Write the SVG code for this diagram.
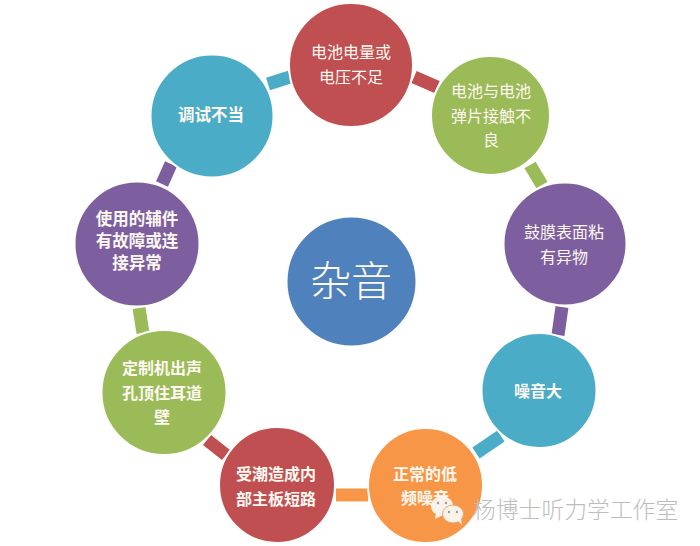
<svg xmlns="http://www.w3.org/2000/svg" width="700" height="546" viewBox="0 0 700 546">
<style>
.c{stroke:#fdfdfb;stroke-width:2}
.t{font-family:"Noto Sans CJK SC","Liberation Sans",sans-serif;font-size:16px;fill:#fdf8f0;text-anchor:middle;font-weight:400}
.b{font-weight:700}
.l{fill:none;stroke-width:13}
.red{fill:#bf4f50}.grn{fill:#9bbb59}.pur{fill:#7d5fa0}.tea{fill:#4aacc6}.org{fill:#f79646}
.big{font-size:41px;font-weight:300}
.n8{font-size:16.500px}
.wm{font-family:"Noto Sans CJK SC",sans-serif;font-size:22.800px;fill:#bdbdbd;font-weight:300}
</style>
<rect width="700" height="546" fill="#fff"/>
<g id="connectors" class="l">
<path d="M268 84L290 77" stroke="#4aacc6"/>
<path d="M414 77L437 87" stroke="#bf4f50"/>
<path d="M530 165L542 185" stroke="#9bbb59"/>
<path d="M562 307L558 335" stroke="#7d5fa0"/>
<path d="M501 436L476 453" stroke="#4aacc6"/>
<path d="M368 495L336 495" stroke="#f79646"/>
<path d="M226 455L207 440" stroke="#bf4f50"/>
<path d="M143 333L139 308" stroke="#9bbb59"/>
<path d="M162 184L171 164" stroke="#7d5fa0"/>
</g>
<g id="n-center"><circle cx="351.500" cy="281.500" r="65" fill="#4f81bd" class="c"/><text x="351" y="296" class="t big">杂音</text></g>
<g id="n1"><circle cx="351" cy="65" r="62" class="c red"/><text class="t" x="351" y="58">电池电量或</text><text class="t" x="351" y="83">电压不足</text></g>
<g id="n2"><circle cx="490.500" cy="115.500" r="59.500" class="c grn"/><text class="t" x="491" y="97">电池与电池</text><text class="t" x="491" y="122">弹片接触不</text><text class="t" x="491" y="146">良</text></g>
<g id="n3"><circle cx="565" cy="244" r="61.500" class="c pur"/><text class="t" x="564" y="238">鼓膜表面粘</text><text class="t" x="564" y="263">有异物</text></g>
<g id="n4"><circle cx="539" cy="390.500" r="57.500" class="c tea"/><text class="t b" x="538" y="397">噪音大</text></g>
<g id="n5"><circle cx="425.500" cy="485.500" r="57.500" class="c org"/><text class="t b" x="425" y="480">正常的低</text><text class="t b" x="425" y="504">频噪音</text></g>
<g id="n6"><circle cx="277" cy="485" r="58" class="c red"/><text class="t b" x="276" y="480">受潮造成内</text><text class="t b" x="276" y="505">部主板短路</text></g>
<g id="n7"><circle cx="164" cy="392.500" r="62.500" class="c grn"/><text class="t b" x="162" y="374">定制机出声</text><text class="t b" x="162" y="399">孔顶住耳道</text><text class="t b" x="162" y="423">壁</text></g>
<g id="n8"><circle cx="137" cy="244" r="62.500" class="c pur"/><text class="t b n8" x="137" y="225">使用的辅件</text><text class="t b n8" x="137" y="247">有故障或连</text><text class="t b n8" x="137" y="269">接异常</text></g>
<g id="n9"><circle cx="212" cy="116" r="61.500" class="c tea"/><text class="t b n8" x="211" y="121">调试不当</text></g>
<g id="watermark">
<ellipse cx="442" cy="506" rx="11" ry="10" fill="#fbf3ea"/>
<path d="M436 513l-1 6 8-4z" fill="#fbf3ea"/>
<ellipse cx="453" cy="514" rx="10.500" ry="9" fill="#fbf3ea" stroke="#e6a878" stroke-width="1"/>
<path d="M458 521l4 4-1-6z" fill="#fbf3ea"/>
<circle cx="438" cy="503" r="1.200" fill="#9a9a9a"/><circle cx="446" cy="503" r="1.200" fill="#9a9a9a"/>
<circle cx="449" cy="512" r="1.200" fill="#9a9a9a"/><circle cx="457" cy="512" r="1.200" fill="#9a9a9a"/>
<text x="473" y="518" class="wm">杨博士听力学工作室</text>
</g>
</svg>
